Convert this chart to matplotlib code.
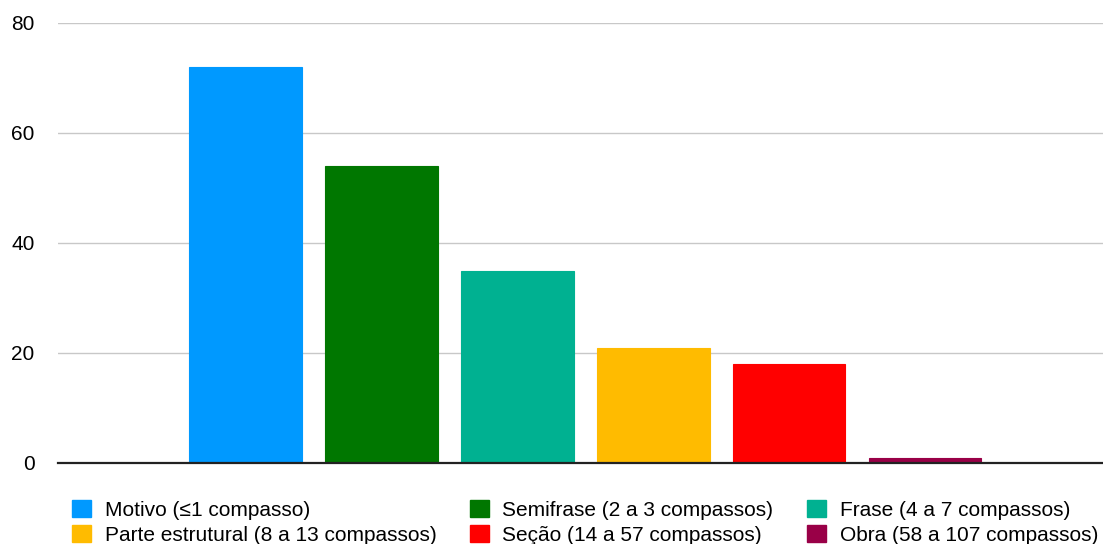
import matplotlib.pyplot as plt
from matplotlib.patches import Patch

plt.rcParams['font.family'] = ['Liberation Sans', 'DejaVu Sans']

# Data
labels = ['Motivo (≤1 compasso)', 'Semifrase (2 a 3 compassos)', 'Frase (4 a 7 compassos)',
          'Parte estrutural (8 a 13 compassos)', 'Seção (14 a 57 compassos)',
          'Obra (58 a 107 compassos)']
values = [72, 54, 35, 21, 18, 1]
colors = ['#0099ff', '#007700', '#00b191', '#ffbb00', '#ff0000', '#990047']
yticks = [0, 20, 40, 60, 80]

fig = plt.figure(figsize=(11.03, 5.44), dpi=100)
ax = fig.add_axes([58 / 1103, 1 - 463 / 544, 1 - 58 / 1103, (463 - 23) / 544])

x = list(range(len(values)))
ax.bar(x, values, width=0.83, color=colors, edgecolor=colors, linewidth=0.8, zorder=3)

ax.set_xlim(-1.38, 6.31)
ax.set_ylim(0, 80)
ax.set_yticks(yticks)
ax.set_xticks([])
ax.tick_params(axis='y', length=0, pad=17, labelsize=15)
ax.grid(axis='y', color='#c8c8c8', linewidth=1, zorder=0)
for s in ['top', 'right', 'left']:
    ax.spines[s].set_visible(False)
ax.spines['bottom'].set_linewidth(1.6)
ax.spines['bottom'].set_color('#222222')
ax.spines['bottom'].set_zorder(4)

# legend: matplotlib fills columns first, so reorder
order = [0, 3, 1, 4, 2, 5]
handles = [Patch(facecolor=colors[i], edgecolor=colors[i]) for i in order]
fig.legend(handles, [labels[i] for i in order], ncol=3, loc='upper left',
           bbox_to_anchor=(72 / 1103, 1 - 500 / 544), frameon=False,
           fontsize=15, handlelength=0.9, handleheight=0.9, handletextpad=0.67,
           columnspacing=1.6, labelspacing=0.25, borderaxespad=0, borderpad=0)

fig.savefig('out.png', dpi=100)
